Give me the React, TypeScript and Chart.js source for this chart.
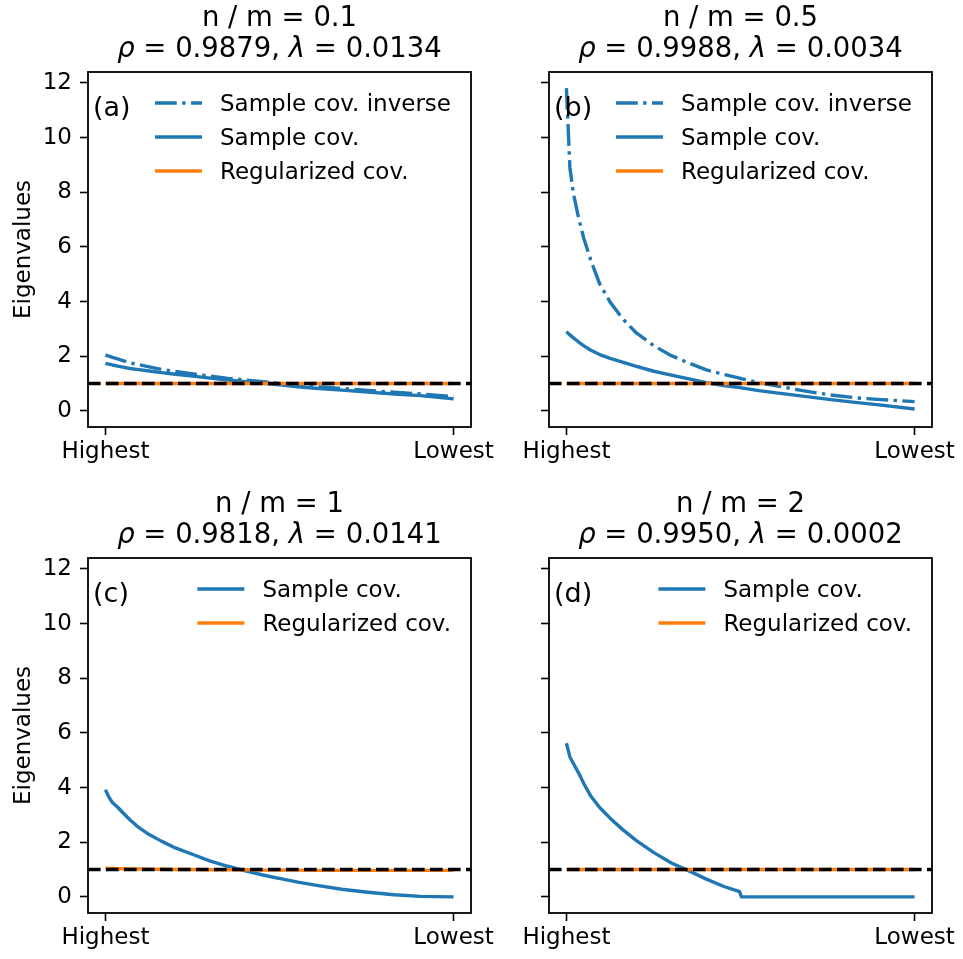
import React, { useEffect, useRef } from 'react';
import { Chart, registerables } from 'chart.js';

Chart.register(...registerables);

// Eigenvalue rank positions (0 = highest, 199 = lowest) at which each spectrum is sampled
const ranks = [0, 2, 4, 7, 10, 14, 19, 25, 32, 40, 50, 60, 70, 80, 90, 99, 100, 110, 120, 135, 150, 165, 180, 199];

// (a) n / m = 0.1
const aInverse = [2.05, 2.0, 1.96, 1.9, 1.84, 1.76, 1.69, 1.61, 1.52, 1.44, 1.35, 1.27, 1.19, 1.13, 1.07, 1.01, 1.0, 0.94, 0.89, 0.82, 0.75, 0.68, 0.62, 0.52];
const aSample = [1.74, 1.71, 1.68, 1.64, 1.6, 1.55, 1.51, 1.46, 1.4, 1.34, 1.27, 1.2, 1.13, 1.07, 1.01, 0.95, 0.95, 0.88, 0.83, 0.76, 0.69, 0.62, 0.56, 0.44];
const aRegularized = [1.0, 1.0, 1.0, 1.0, 1.0, 1.0, 1.0, 1.0, 1.0, 1.0, 1.0, 1.0, 1.0, 1.0, 1.0, 1.0, 1.0, 1.0, 1.0, 1.0, 1.0, 1.0, 1.0, 1.0];

// (b) n / m = 0.5
const bInverse = [11.81, 8.9, 7.95, 7.05, 6.3, 5.5, 4.65, 3.98, 3.38, 2.85, 2.38, 2.02, 1.75, 1.5, 1.33, 1.2, 1.18, 1.03, 0.92, 0.74, 0.59, 0.48, 0.41, 0.34];
const bSample = [2.9, 2.78, 2.67, 2.52, 2.38, 2.22, 2.06, 1.92, 1.78, 1.63, 1.45, 1.31, 1.17, 1.03, 0.93, 0.85, 0.84, 0.74, 0.66, 0.54, 0.42, 0.31, 0.21, 0.07];
const bRegularized = [1.0, 1.0, 1.0, 1.0, 1.0, 1.0, 1.0, 1.0, 1.0, 1.0, 1.0, 1.0, 1.0, 1.0, 1.0, 1.0, 1.0, 1.0, 1.0, 1.0, 1.0, 1.0, 1.0, 1.0];

// (c) n / m = 1
const cSample = [3.92, 3.65, 3.45, 3.28, 3.08, 2.82, 2.54, 2.28, 2.04, 1.79, 1.55, 1.31, 1.12, 0.95, 0.8, 0.68, 0.67, 0.54, 0.43, 0.28, 0.17, 0.08, 0.02, 0.0];
const cRegularized = [1.05, 1.04, 1.04, 1.03, 1.03, 1.02, 1.02, 1.01, 1.01, 1.0, 1.0, 0.99, 0.99, 0.99, 0.98, 0.98, 0.98, 0.98, 0.97, 0.97, 0.97, 0.97, 0.97, 0.97];

// (d) n / m = 2
const dSample = [5.62, 5.12, 4.88, 4.53, 4.14, 3.68, 3.27, 2.88, 2.47, 2.06, 1.62, 1.24, 0.95, 0.65, 0.38, 0.19, 0.0, 0.0, 0.0, 0.0, 0.0, 0.0, 0.0, 0.0];
const dRegularized = [1.0, 1.0, 1.0, 1.0, 1.0, 1.0, 1.0, 1.0, 1.0, 1.0, 1.0, 1.0, 1.0, 1.0, 1.0, 1.0, 1.0, 1.0, 1.0, 1.0, 1.0, 1.0, 1.0, 1.0];

// Titles and labels
const panelTags = ['(a)', '(b)', '(c)', '(d)'];
const ratioLabels = ['0.1', '0.5', '1', '2'];
const rhoValues = ['0.9879', '0.9988', '0.9818', '0.9950'];
const lambdaValues = ['0.0134', '0.0034', '0.0141', '0.0002'];
const xTickLabels = ['Highest', 'Lowest'];
const yTicks = [0, 2, 4, 6, 8, 10, 12];
const yAxisTitle = 'Eigenvalues';
const referenceLevel = 1;

// Shared eigenvalue axis range (data span 0..11.81 plus 5% margins)
const yMin = -0.59;
const yMax = 12.4;

const BLUE = '#1f77b4';
const ORANGE = '#ff7f0e';
const FAMILY = '"DejaVu Sans", "Liberation Sans", sans-serif';
const LW = 3.4;

type Box = { left: number; top: number; width: number; height: number };
type Area = { left: number; top: number; right: number; bottom: number };
type PanelSpec = {
  index: number;
  inverse?: number[];
  sample: number[];
  regularized: number[];
  showYLabels: boolean;
  box: Box;
  area: Area;
};

const panels: PanelSpec[] = [
  { index: 0, inverse: aInverse, sample: aSample, regularized: aRegularized, showYLabels: true,
    box: { left: 0, top: 0, width: 520, height: 480 }, area: { left: 88, top: 72, right: 471, bottom: 427 } },
  { index: 1, inverse: bInverse, sample: bSample, regularized: bRegularized, showYLabels: false,
    box: { left: 470, top: 0, width: 493, height: 480 }, area: { left: 79, top: 72, right: 462, bottom: 427 } },
  { index: 2, sample: cSample, regularized: cRegularized, showYLabels: true,
    box: { left: 0, top: 480, width: 520, height: 479 }, area: { left: 88, top: 78, right: 471, bottom: 433 } },
  { index: 3, sample: dSample, regularized: dRegularized, showYLabels: false,
    box: { left: 470, top: 480, width: 493, height: 479 }, area: { left: 79, top: 78, right: 462, bottom: 433 } },
];

const toPoints = (values: number[]) => values.map((v, i) => ({ x: ranks[i], y: v }));

const font = (size: number, italic = false) => `${italic ? 'italic ' : ''}${size}px ${FAMILY}`;

// Frame, reference line, titles, legend, panel tag and y-axis title
const decorPlugin = {
  id: 'decor',
  afterDatasetsDraw(chart: any) {
    const { ctx, chartArea: ca, scales } = chart;
    const y = scales.y.getPixelForValue(referenceLevel);
    ctx.save();
    ctx.beginPath();
    ctx.rect(ca.left, ca.top, ca.right - ca.left, ca.bottom - ca.top);
    ctx.clip();
    ctx.strokeStyle = '#000000';
    ctx.lineWidth = LW;
    ctx.setLineDash([12.6, 5.4]);
    ctx.beginPath();
    ctx.moveTo(ca.left, y);
    ctx.lineTo(ca.right, y);
    ctx.stroke();
    ctx.restore();
  },
  afterDraw(chart: any, _args: any, opts: any) {
    const { ctx, chartArea: ca } = chart;
    const i: number = opts.index;
    ctx.save();

    // axes frame
    ctx.strokeStyle = '#000000';
    ctx.lineWidth = 1.8;
    ctx.setLineDash([]);
    ctx.strokeRect(ca.left, ca.top, ca.right - ca.left, ca.bottom - ca.top);

    ctx.fillStyle = '#000000';
    ctx.textBaseline = 'alphabetic';

    // two-line title
    const cx = (ca.left + ca.right) / 2;
    const tSize = 27.5;
    ctx.font = font(tSize);
    ctx.textAlign = 'center';
    ctx.fillText(`n / m = ${ratioLabels[i]}`, cx, ca.top - 46);
    const parts: [string, boolean][] = [
      ['\u03c1', true],
      [` = ${rhoValues[i]}, `, false],
      ['\u03bb', true],
      [` = ${lambdaValues[i]}`, false],
    ];
    let total = 0;
    for (const [t, it] of parts) {
      ctx.font = font(tSize, it);
      total += ctx.measureText(t).width;
    }
    let x = cx - total / 2;
    ctx.textAlign = 'left';
    for (const [t, it] of parts) {
      ctx.font = font(tSize, it);
      ctx.fillText(t, x, ca.top - 15);
      x += ctx.measureText(t).width;
    }

    // panel tag
    ctx.font = font(27);
    ctx.fillText(panelTags[i], ca.left + 5, ca.top + 44);

    // legend
    const lSize = 23;
    ctx.font = font(lSize);
    const entries = chart.data.datasets.filter((d: any) => d.label);
    const maxW = Math.max(...entries.map((d: any) => ctx.measureText(d.label).width));
    const textX = ca.right - 20 - maxW;
    entries.forEach((d: any, k: number) => {
      const ry = ca.top + 31 + 34 * k;
      ctx.save();
      ctx.strokeStyle = d.borderColor;
      ctx.lineWidth = d.borderWidth;
      ctx.setLineDash(d.borderDash || []);
      ctx.lineCap = 'butt';
      ctx.beginPath();
      ctx.moveTo(textX - 65, ry);
      ctx.lineTo(textX - 18, ry);
      ctx.stroke();
      ctx.restore();
      ctx.fillStyle = '#000000';
      ctx.font = font(lSize);
      ctx.textAlign = 'left';
      ctx.fillText(d.label, textX, ry + 8.4);
    });

    // y-axis title
    if (opts.showYLabels) {
      ctx.save();
      ctx.translate(30, (ca.top + ca.bottom) / 2);
      ctx.rotate(-Math.PI / 2);
      ctx.font = font(23);
      ctx.textAlign = 'center';
      ctx.fillText(yAxisTitle, 0, 0);
      ctx.restore();
    }
    ctx.restore();
  },
};

function buildConfig(p: PanelSpec): any {
  const datasets: any[] = [];
  const common = {
    pointRadius: 0,
    pointHoverRadius: 0,
    borderWidth: LW,
    fill: false,
    tension: 0,
    borderJoinStyle: 'round',
    borderCapStyle: 'butt',
  };
  if (p.inverse) {
    datasets.push({ ...common, label: 'Sample cov. inverse', data: toPoints(p.inverse), borderColor: BLUE, borderDash: [21.8, 5.4, 3.4, 5.4], order: 2 });
  }
  datasets.push({ ...common, label: 'Sample cov.', data: toPoints(p.sample), borderColor: BLUE, order: 1 });
  datasets.push({ ...common, label: 'Regularized cov.', data: toPoints(p.regularized), borderColor: ORANGE, order: 0 });

  const first = ranks[0];
  const last = ranks[ranks.length - 1];
  const xPad = 0.05 * (last - first);
  const tickFont = { family: FAMILY, size: 23 };
  const grid = { display: true, drawOnChartArea: false, drawTicks: true, tickLength: 8, tickColor: '#000000', tickWidth: 1.6 };

  return {
    type: 'line',
    data: { datasets },
    plugins: [decorPlugin],
    options: {
      responsive: false,
      animation: false,
      devicePixelRatio: 1,
      events: [],
      layout: { padding: { left: 0, top: p.area.top, right: p.box.width - p.area.right, bottom: 0 } },
      plugins: {
        legend: { display: false },
        tooltip: { enabled: false },
        title: { display: false },
        decor: { index: p.index, showYLabels: p.showYLabels },
      },
      scales: {
        x: {
          type: 'linear',
          min: first - xPad,
          max: last + xPad,
          afterBuildTicks: (s: any) => { s.ticks = [{ value: first }, { value: last }]; },
          afterFit: (s: any) => { s.height = p.box.height - p.area.bottom; },
          ticks: { callback: (_v: any, i: number) => xTickLabels[i], font: tickFont, color: '#000000', padding: 3, maxRotation: 0, autoSkip: false },
          grid,
          border: { display: false },
        },
        y: {
          type: 'linear',
          min: yMin,
          max: yMax,
          afterBuildTicks: (s: any) => { s.ticks = yTicks.map((v) => ({ value: v })); },
          afterFit: (s: any) => { s.width = p.area.left; },
          ticks: { display: p.showYLabels, callback: (v: any) => String(v), font: tickFont, color: '#000000', padding: 8 },
          grid,
          border: { display: false },
        },
      },
    },
  };
}

function Panel({ spec }: { spec: PanelSpec }) {
  const ref = useRef<HTMLCanvasElement | null>(null);
  useEffect(() => {
    if (!ref.current) return;
    const chart = new Chart(ref.current, buildConfig(spec));
    return () => chart.destroy();
  }, [spec]);
  const { left, top, width, height } = spec.box;
  return (
    <canvas
      ref={ref}
      width={width}
      height={height}
      style={{ position: 'absolute', left, top, width, height }}
    />
  );
}

export default function App() {
  return (
    <div style={{ position: 'absolute', left: 0, top: 0, width: 963, height: 959, background: '#ffffff', overflow: 'hidden' }}>
      {panels.map((p) => (
        <Panel key={p.index} spec={p} />
      ))}
    </div>
  );
}
